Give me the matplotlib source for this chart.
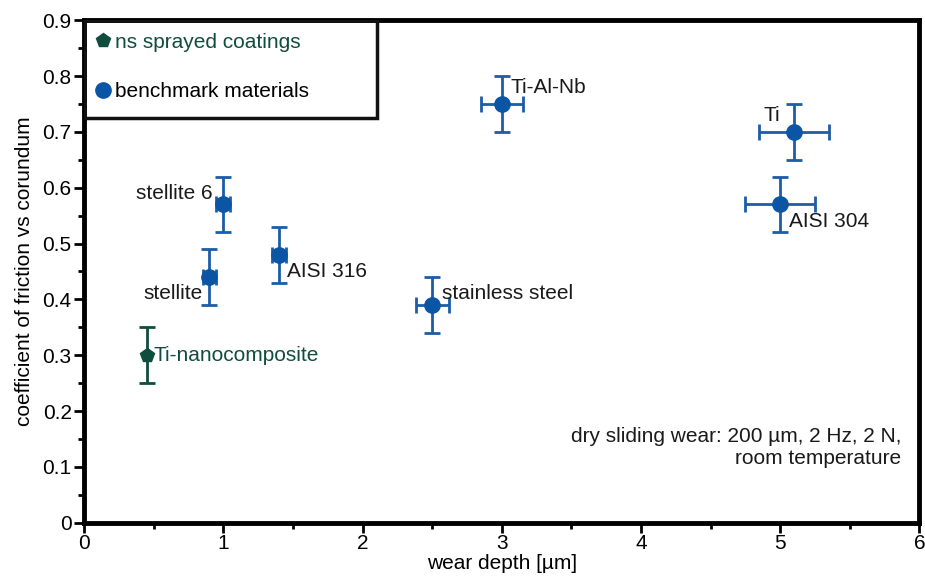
import matplotlib
matplotlib.use('Agg')
import matplotlib.pyplot as plt
from matplotlib.patches import Rectangle
from matplotlib.ticker import MultipleLocator

plt.rcParams['font.family'] = ['Liberation Sans', 'DejaVu Sans']

# benchmark materials
names = ['stellite 6', 'stellite', 'AISI 316', 'stainless steel', 'Ti-Al-Nb', 'Ti', 'AISI 304']
depth = [1.0, 0.9, 1.4, 2.5, 3.0, 5.1, 5.0]
depth_err = [0.05, 0.05, 0.05, 0.12, 0.15, 0.25, 0.25]
cof = [0.57, 0.44, 0.48, 0.39, 0.75, 0.70, 0.57]
cof_err = [0.05, 0.05, 0.05, 0.05, 0.05, 0.05, 0.05]

# ns sprayed coatings
coat_names = ['Ti-nanocomposite']
coat_depth = [0.45]
coat_cof = [0.30]
coat_cof_err = [0.05]

blue = '#1d5ca8'
green = '#0f4d3c'
fs = 15

fig = plt.figure(figsize=(9.25, 5.77), dpi=100)
ax = fig.add_axes([0.091, 0.094, 0.903, 0.871])

ax.errorbar(depth, cof, xerr=depth_err, yerr=cof_err, fmt='o', color='#0b55a5',
            ecolor=blue, elinewidth=2, capsize=6, capthick=2, markersize=11,
            label='benchmark materials', zorder=3)
ax.errorbar(coat_depth, coat_cof, yerr=coat_cof_err, fmt='p', color=green,
            ecolor=green, elinewidth=2, capsize=6, capthick=2, markersize=10,
            label='ns sprayed coatings', zorder=3)

# label offsets (data units)
offs = {
    'stellite 6': (-0.08, 0.02, 'right', 'center'),
    'stellite': (-0.05, -0.03, 'right', 'center'),
    'AISI 316': (0.06, -0.03, 'left', 'center'),
    'stainless steel': (0.07, 0.02, 'left', 'center'),
    'Ti-Al-Nb': (0.06, 0.03, 'left', 'center'),
    'Ti': (-0.1, 0.03, 'right', 'center'),
    'AISI 304': (0.06, -0.03, 'left', 'center'),
}
for n, x, y in zip(names, depth, cof):
    dx, dy, ha, va = offs[n]
    ax.text(x + dx, y + dy, n, fontsize=fs, ha=ha, va=va, color='#1a1a1a')
for n, x, y in zip(coat_names, coat_depth, coat_cof):
    ax.text(x + 0.05, y, n, fontsize=fs, ha='left', va='center', color=green)

ax.text(5.87, 0.135, 'dry sliding wear: 200 \u00b5m, 2 Hz, 2 N,\nroom temperature',
        fontsize=fs, ha='right', va='center', linespacing=1.25, color='#1a1a1a')

ax.set_xlim(0, 6)
ax.set_ylim(0, 0.9)
ax.xaxis.set_major_locator(MultipleLocator(1))
ax.xaxis.set_minor_locator(MultipleLocator(0.5))
ax.yaxis.set_minor_locator(MultipleLocator(0.05))
ax.set_yticks([i / 10 for i in range(10)])
ax.set_yticklabels(['0'] + ['%.1f' % (i / 10) for i in range(1, 10)])
ax.tick_params(which='major', length=7, width=2, labelsize=fs, direction='out', pad=2)
ax.tick_params(axis='x', which='major', pad=1)
ax.tick_params(which='minor', length=4, width=2, direction='out')
for s in ax.spines.values():
    s.set_linewidth(3.5)

ax.set_xlabel('wear depth [\u00b5m]', fontsize=fs, labelpad=1)
ax.set_ylabel('coefficient of friction vs corundum', fontsize=fs, labelpad=6)

# legend box
ax.add_patch(Rectangle((0, 0.805), 0.35, 0.195, transform=ax.transAxes,
                       fill=False, edgecolor='#111111', linewidth=2.5, zorder=4))
h, l = ax.get_legend_handles_labels()
leg = ax.legend([hh[0] for hh in h[::-1]], l[::-1], loc='upper left',
                bbox_to_anchor=(0.0, 1.0), frameon=False, fontsize=fs,
                handletextpad=0.3, handlelength=0.6, labelspacing=1.45,
                borderaxespad=0.4, borderpad=0.2)
leg.get_texts()[0].set_color(green)

fig.savefig('out.png')
